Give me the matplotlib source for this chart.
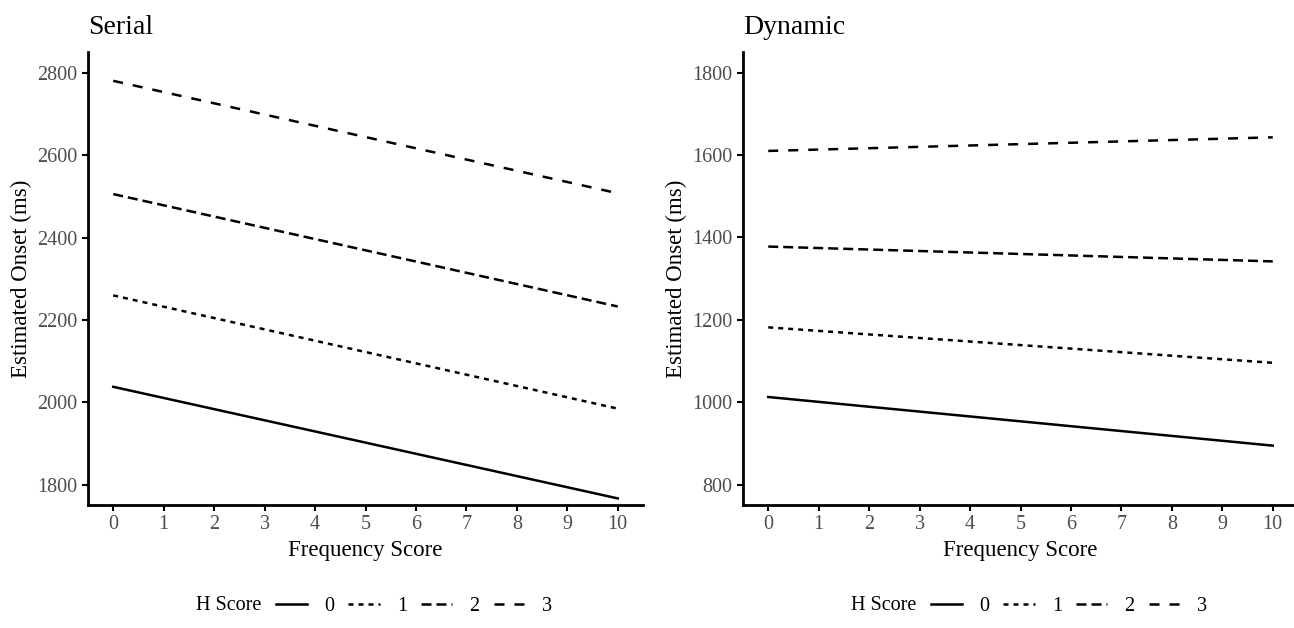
import matplotlib
matplotlib.use("Agg")
import matplotlib.pyplot as plt
from matplotlib.lines import Line2D

plt.rcParams["font.family"] = ["Liberation Serif", "DejaVu Serif"]

# frequency score end points of each fitted line
freq = [0, 10]
h_scores = ["0", "1", "2", "3"]

# estimated onset (ms) at freq 0 and freq 10
serial_h0 = [2038, 1767]
serial_h1 = [2260, 1985]
serial_h2 = [2506, 2233]
serial_h3 = [2781, 2508]

dynamic_h0 = [1013, 895]
dynamic_h1 = [1182, 1096]
dynamic_h2 = [1378, 1342]
dynamic_h3 = [1610, 1643]

serial_ticks = [1800, 2000, 2200, 2400, 2600, 2800]
dynamic_ticks = [800, 1000, 1200, 1400, 1600, 1800]

styles = ["-", (0, (2, 2)), (0, (4, 2)), (0, (4, 4))]
lw = 1.8
grey = "#4d4d4d"

W, H = 1294, 628
fig = plt.figure(figsize=(W / 100, H / 100), dpi=100)

ax1 = fig.add_axes([88 / W, 1 - 505 / H, 555 / W, 453 / H])
ax2 = fig.add_axes([743 / W, 1 - 505 / H, 555 / W, 453 / H])


def style_panel(ax, title, yticks, ylim):
    ax.set_xlim(-0.5, 10.5)
    ax.set_ylim(*ylim)
    ax.set_xticks(range(0, 11))
    ax.set_yticks(yticks)
    for s in ["top", "right"]:
        ax.spines[s].set_visible(False)
    for s in ["left", "bottom"]:
        ax.spines[s].set_linewidth(2.0)
    ax.tick_params(direction="out", length=4.5, width=1.5, color="black",
                   labelsize=14.5, labelcolor=grey, pad=3)
    ax.set_xlabel("Frequency Score", fontsize=16.5)
    ax.set_ylabel("Estimated Onset (ms)", fontsize=16.5)
    ax.xaxis.set_label_coords(0.5, -0.078)
    ax.yaxis.set_label_coords(-0.10, 0.5)
    ax.text(0, 1.055, title, transform=ax.transAxes, fontsize=20,
            ha="left", va="center")


serial = [serial_h0, serial_h1, serial_h2, serial_h3]
dynamic = [dynamic_h0, dynamic_h1, dynamic_h2, dynamic_h3]
for vals, ls in zip(serial, styles):
    ax1.plot(freq, vals, color="black", linestyle=ls, linewidth=lw)
for vals, ls in zip(dynamic, styles):
    ax2.plot(freq, vals, color="black", linestyle=ls, linewidth=lw)

style_panel(ax1, "Serial", serial_ticks, (1751, 2851))
style_panel(ax2, "Dynamic", dynamic_ticks, (751, 1850))

# legends below each panel
handles = [Line2D([], [], color="black", linestyle=ls, linewidth=lw) for ls in styles]
for off in [0, 655]:
    fig.text((196 + off) / W, 1 - 606 / H, "H Score", fontsize=14.5,
             ha="left", va="center")
    fig.legend(handles, h_scores, loc="center left",
               bbox_to_anchor=((276 + off) / W, 1 - 606 / H), ncol=4,
               frameon=False, fontsize=14.5, handlelength=1.55,
               handletextpad=0.85, columnspacing=0.7, borderpad=0,
               borderaxespad=0)

fig.savefig("out.png", dpi=100)
